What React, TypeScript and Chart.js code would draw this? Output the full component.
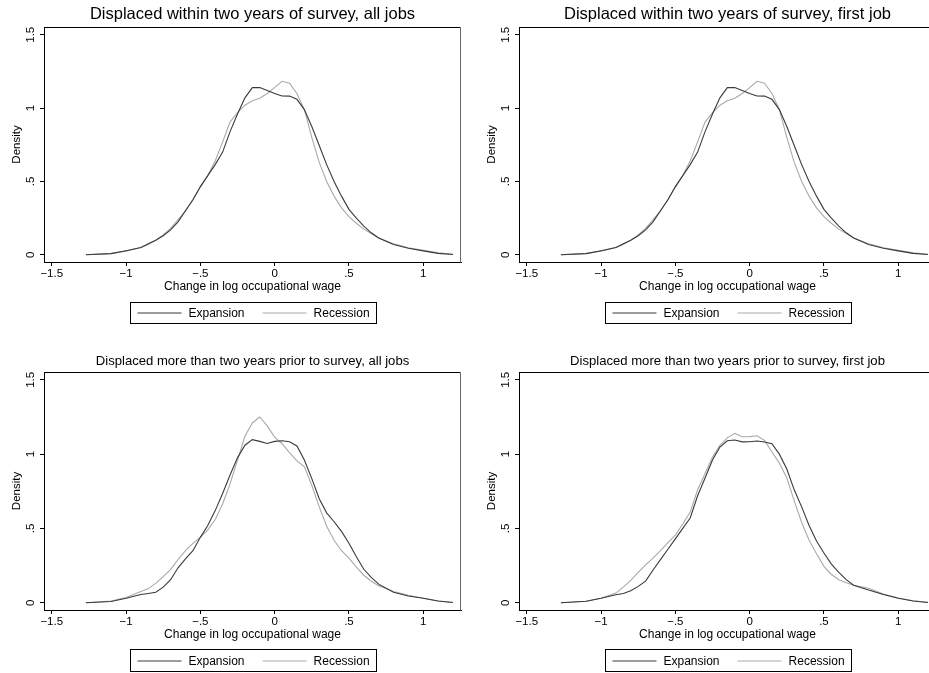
import React, { useEffect, useRef } from "react";
import { Chart, registerables } from "chart.js";

Chart.register(...registerables);

const FONT = "'Liberation Sans', Arial, Helvetica, sans-serif";

// Common evaluation grid of the kernel density estimates (change in log occupational wage)
const xGrid = [
  -1.27, -1.1, -1.0, -0.9, -0.85, -0.8, -0.75, -0.7, -0.65, -0.6, -0.55, -0.5, -0.45, -0.4,
  -0.35, -0.3, -0.25, -0.2, -0.15, -0.1, -0.05, 0, 0.05, 0.1, 0.15, 0.2, 0.25, 0.3, 0.35,
  0.4, 0.45, 0.5, 0.55, 0.6, 0.65, 0.7, 0.8, 0.9, 1.0, 1.1, 1.2,
];

// Displaced within two years of survey, all jobs
const recentAllExpansion = [
  0, 0.008, 0.028, 0.05, 0.075, 0.1, 0.13, 0.17, 0.225, 0.3, 0.375, 0.465, 0.54, 0.615,
  0.7, 0.84, 0.96, 1.07, 1.14, 1.14, 1.12, 1.1, 1.083, 1.082, 1.06, 0.99, 0.875, 0.745, 0.615,
  0.5, 0.4, 0.31, 0.25, 0.195, 0.15, 0.115, 0.07, 0.045, 0.027, 0.01, 0.002,
];
const recentAllRecession = [
  0, 0.01, 0.025, 0.05, 0.07, 0.1, 0.135, 0.18, 0.24, 0.3, 0.375, 0.46, 0.54, 0.64,
  0.77, 0.905, 0.97, 1.02, 1.05, 1.068, 1.1, 1.14, 1.183, 1.17, 1.1, 0.99, 0.8, 0.63, 0.5,
  0.4, 0.32, 0.26, 0.215, 0.175, 0.145, 0.115, 0.075, 0.048, 0.03, 0.013, 0.004,
];

// Displaced within two years of survey, first job
const recentFirstExpansion = [
  0, 0.008, 0.028, 0.05, 0.075, 0.1, 0.13, 0.17, 0.225, 0.3, 0.375, 0.465, 0.54, 0.615,
  0.7, 0.84, 0.96, 1.07, 1.14, 1.14, 1.12, 1.1, 1.083, 1.082, 1.06, 0.99, 0.875, 0.745, 0.615,
  0.5, 0.4, 0.31, 0.25, 0.195, 0.15, 0.115, 0.07, 0.045, 0.027, 0.01, 0.002,
];
const recentFirstRecession = [
  0, 0.01, 0.025, 0.05, 0.07, 0.1, 0.135, 0.18, 0.24, 0.3, 0.375, 0.46, 0.54, 0.64,
  0.77, 0.905, 0.97, 1.02, 1.05, 1.068, 1.1, 1.14, 1.183, 1.17, 1.1, 0.99, 0.8, 0.63, 0.5,
  0.4, 0.32, 0.26, 0.215, 0.175, 0.145, 0.115, 0.075, 0.048, 0.03, 0.013, 0.004,
];

// Displaced more than two years prior to survey, all jobs
const earlierAllExpansion = [
  0, 0.008, 0.03, 0.055, 0.062, 0.07, 0.105, 0.155, 0.235, 0.295, 0.35, 0.44, 0.52, 0.62,
  0.735, 0.86, 0.975, 1.06, 1.098, 1.086, 1.072, 1.086, 1.09, 1.084, 1.055, 0.96, 0.835, 0.7,
  0.605, 0.545, 0.48, 0.4, 0.31, 0.225, 0.17, 0.125, 0.07, 0.045, 0.03, 0.012, 0.002,
];
const earlierAllRecession = [
  0, 0.012, 0.035, 0.075, 0.095, 0.13, 0.175, 0.225, 0.29, 0.35, 0.4, 0.44, 0.49, 0.56,
  0.665, 0.8, 0.96, 1.12, 1.21, 1.25, 1.19, 1.115, 1.07, 1.01, 0.955, 0.915, 0.79, 0.645,
  0.515, 0.42, 0.35, 0.3, 0.24, 0.185, 0.145, 0.115, 0.075, 0.05, 0.03, 0.012, 0.002,
];

// Displaced more than two years prior to survey, first job
const earlierFirstExpansion = [
  0, 0.01, 0.03, 0.054, 0.062, 0.08, 0.11, 0.145, 0.22, 0.29, 0.36, 0.43, 0.5, 0.57,
  0.72, 0.84, 0.96, 1.048, 1.09, 1.095, 1.083, 1.084, 1.089, 1.082, 1.07, 1.0, 0.9, 0.76,
  0.645, 0.52, 0.415, 0.335, 0.26, 0.205, 0.155, 0.118, 0.085, 0.055, 0.03, 0.012, 0.002,
];
const earlierFirstRecession = [
  0, 0.01, 0.03, 0.065, 0.105, 0.15, 0.205, 0.255, 0.3, 0.35, 0.405, 0.455, 0.53, 0.61,
  0.76, 0.87, 0.98, 1.06, 1.11, 1.14, 1.117, 1.118, 1.124, 1.093, 1.015, 0.94, 0.84, 0.685,
  0.54, 0.42, 0.33, 0.245, 0.19, 0.155, 0.135, 0.118, 0.098, 0.058, 0.032, 0.013, 0.003,
];

const seriesNames = ["Expansion", "Recession"];
const seriesColors = ["#3a3a3a", "#a9a9a9"];

const xTickValues = [-1.5, -1, -0.5, 0, 0.5, 1];
const xTickLabels = ["\u22121.5", "\u22121", "\u2212.5", "0", ".5", "1"];
const yTickValues = [0, 0.5, 1, 1.5];
const yTickLabels = ["0", ".5", "1", "1.5"];

const xAxisTitle = "Change in log occupational wage";
const yAxisTitle = "Density";

const X_MIN = -1.552;
const X_MAX = 1.254;
const Y_MIN = -0.049;
const Y_MAX = 1.553;

const framePlugin = {
  id: "stataFrame",
  afterDraw(chart: any) {
    const { ctx, chartArea } = chart;
    const l = Math.round(chartArea.left) + 0.5;
    const r = Math.round(chartArea.right) - 0.5;
    const t = Math.round(chartArea.top) + 0.5;
    ctx.save();
    ctx.lineWidth = 1;
    ctx.strokeStyle = "#000";
    ctx.beginPath();
    ctx.moveTo(l, t);
    ctx.lineTo(r, t);
    ctx.stroke();
    ctx.strokeStyle = "#6a6a6a";
    ctx.beginPath();
    ctx.moveTo(r, t);
    ctx.lineTo(r, Math.round(chartArea.bottom) + 0.5);
    ctx.stroke();
    ctx.restore();
  },
};

const legendPlugin = {
  id: "stataLegend",
  afterDraw(chart: any, _args: any, opts: any) {
    const { ctx, chartArea } = chart;
    const lineLen = 44;
    const pad = 7;
    const textGap = 7;
    const itemGap = 18;
    const bh = opts.height || 21;
    ctx.save();
    ctx.font = `12px ${FONT}`;
    const items = chart.data.datasets.map((ds: any) => ({
      label: ds.label,
      color: ds.borderColor,
      w: ctx.measureText(ds.label).width,
    }));
    let total = pad * 2 + itemGap * (items.length - 1);
    items.forEach((it: any) => (total += lineLen + textGap + it.w));
    total = Math.round(total);
    const cx = (chartArea.left + chartArea.right) / 2;
    const bx = Math.round(cx - total / 2) + 0.5;
    const by = Math.round(chartArea.bottom + (opts.offset || 40)) + 0.5;
    ctx.lineWidth = 1;
    ctx.strokeStyle = "#000";
    ctx.strokeRect(bx, by, total, bh);
    const cy = Math.round(by + bh / 2) + 0.5;
    let x = bx + pad;
    ctx.textBaseline = "middle";
    ctx.textAlign = "left";
    items.forEach((it: any) => {
      ctx.strokeStyle = it.color;
      ctx.beginPath();
      ctx.moveTo(x, cy - 0.5);
      ctx.lineTo(x + lineLen, cy - 0.5);
      ctx.stroke();
      ctx.fillStyle = "#000";
      ctx.fillText(it.label, x + lineLen + textGap, cy);
      x += lineLen + textGap + it.w + itemGap;
    });
    ctx.restore();
  },
};

type PanelProps = {
  left: number;
  top: number;
  width: number;
  height: number;
  title: string;
  titleSize: number;
  titlePadTop: number;
  titlePadBottom: number;
  bottomSpace: number;
  legendOffset: number;
  legendHeight: number;
  expansion: number[];
  recession: number[];
};

function Panel(p: PanelProps) {
  const ref = useRef<HTMLCanvasElement>(null);
  useEffect(() => {
    if (!ref.current) return;
    const series = [p.expansion, p.recession];
    const chart = new Chart(ref.current, {
      type: "line",
      data: {
        datasets: series.map((vals, si) => ({
          label: seriesNames[si],
          data: xGrid.map((x, i) => ({ x, y: vals[i] })),
          borderColor: seriesColors[si],
          backgroundColor: seriesColors[si],
          borderWidth: 1.1,
          pointRadius: 0,
          tension: 0,
          fill: false,
        })),
      },
      options: {
        animation: false,
        responsive: false,
        maintainAspectRatio: false,
        devicePixelRatio: 1,
        events: [],
        layout: { padding: { left: 0, right: 14, top: 0, bottom: p.bottomSpace } },
        plugins: {
          legend: { display: false },
          tooltip: { enabled: false },
          title: {
            display: true,
            text: p.title,
            fullSize: false,
            color: "#000",
            font: { size: p.titleSize, family: FONT, weight: "normal" },
            padding: { top: p.titlePadTop, bottom: p.titlePadBottom },
          },
          stataLegend: { offset: p.legendOffset, height: p.legendHeight },
        } as any,
        scales: {
          x: {
            type: "linear",
            min: X_MIN,
            max: X_MAX,
            afterBuildTicks: (s: any) => {
              s.ticks = xTickValues.map((v) => ({ value: v }));
            },
            afterFit: (s: any) => {
              s.height = 33;
            },
            ticks: {
              callback: (_v: any, i: number) => xTickLabels[i],
              font: { size: 11.5, family: FONT },
              color: "#000",
              padding: 1,
              maxRotation: 0,
              minRotation: 0,
              autoSkip: false,
            },
            grid: { drawOnChartArea: false, tickLength: 4, color: "#000", tickWidth: 1 },
            border: { display: true, color: "#000", width: 1 },
            title: {
              display: true,
              text: xAxisTitle,
              color: "#000",
              font: { size: 12, family: FONT },
              padding: { top: 0, bottom: 1 },
            },
          },
          y: {
            type: "linear",
            min: Y_MIN,
            max: Y_MAX,
            afterBuildTicks: (s: any) => {
              s.ticks = yTickValues.map((v) => ({ value: v }));
            },
            afterFit: (s: any) => {
              s.width = 44;
            },
            ticks: {
              callback: (_v: any, i: number) => yTickLabels[i],
              font: { size: 11.5, family: FONT },
              color: "#000",
              padding: 1,
              minRotation: 90,
              maxRotation: 90,
              crossAlign: "center",
              autoSkip: false,
            },
            grid: { drawOnChartArea: false, tickLength: 4, color: "#000", tickWidth: 1 },
            border: { display: true, color: "#000", width: 1 },
            title: {
              display: true,
              text: yAxisTitle,
              color: "#000",
              font: { size: 11.5, family: FONT },
              padding: { top: 10, bottom: 0 },
            },
          },
        },
      } as any,
      plugins: [framePlugin, legendPlugin],
    });
    return () => chart.destroy();
  }, []);
  return (
    <canvas
      ref={ref}
      width={p.width}
      height={p.height}
      style={{ position: "absolute", left: p.left, top: p.top, width: p.width, height: p.height }}
    />
  );
}

export default function App() {
  const topCommon = {
    width: 475,
    height: 336,
    titleSize: 16.5,
    titlePadTop: 4.3,
    titlePadBottom: 2.9,
    bottomSpace: 41,
    legendOffset: 40,
    legendHeight: 21,
  };
  const bottomCommon = {
    width: 475,
    height: 333,
    titleSize: 13.1,
    titlePadTop: 13.5,
    titlePadBottom: 2.78,
    bottomSpace: 30,
    legendOffset: 39,
    legendHeight: 22,
  };
  return (
    <div
      style={{
        position: "absolute",
        left: 0,
        top: 0,
        width: 929,
        height: 673,
        overflow: "hidden",
        background: "#fff",
      }}
    >
      <Panel
        {...topCommon}
        left={0}
        top={0}
        title="Displaced within two years of survey, all jobs"
        expansion={recentAllExpansion}
        recession={recentAllRecession}
      />
      <Panel
        {...topCommon}
        left={475}
        top={0}
        title="Displaced within two years of survey, first job"
        expansion={recentFirstExpansion}
        recession={recentFirstRecession}
      />
      <Panel
        {...bottomCommon}
        left={0}
        top={340}
        title="Displaced more than two years prior to survey, all jobs"
        expansion={earlierAllExpansion}
        recession={earlierAllRecession}
      />
      <Panel
        {...bottomCommon}
        left={475}
        top={340}
        title="Displaced more than two years prior to survey, first job"
        expansion={earlierFirstExpansion}
        recession={earlierFirstRecession}
      />
    </div>
  );
}
